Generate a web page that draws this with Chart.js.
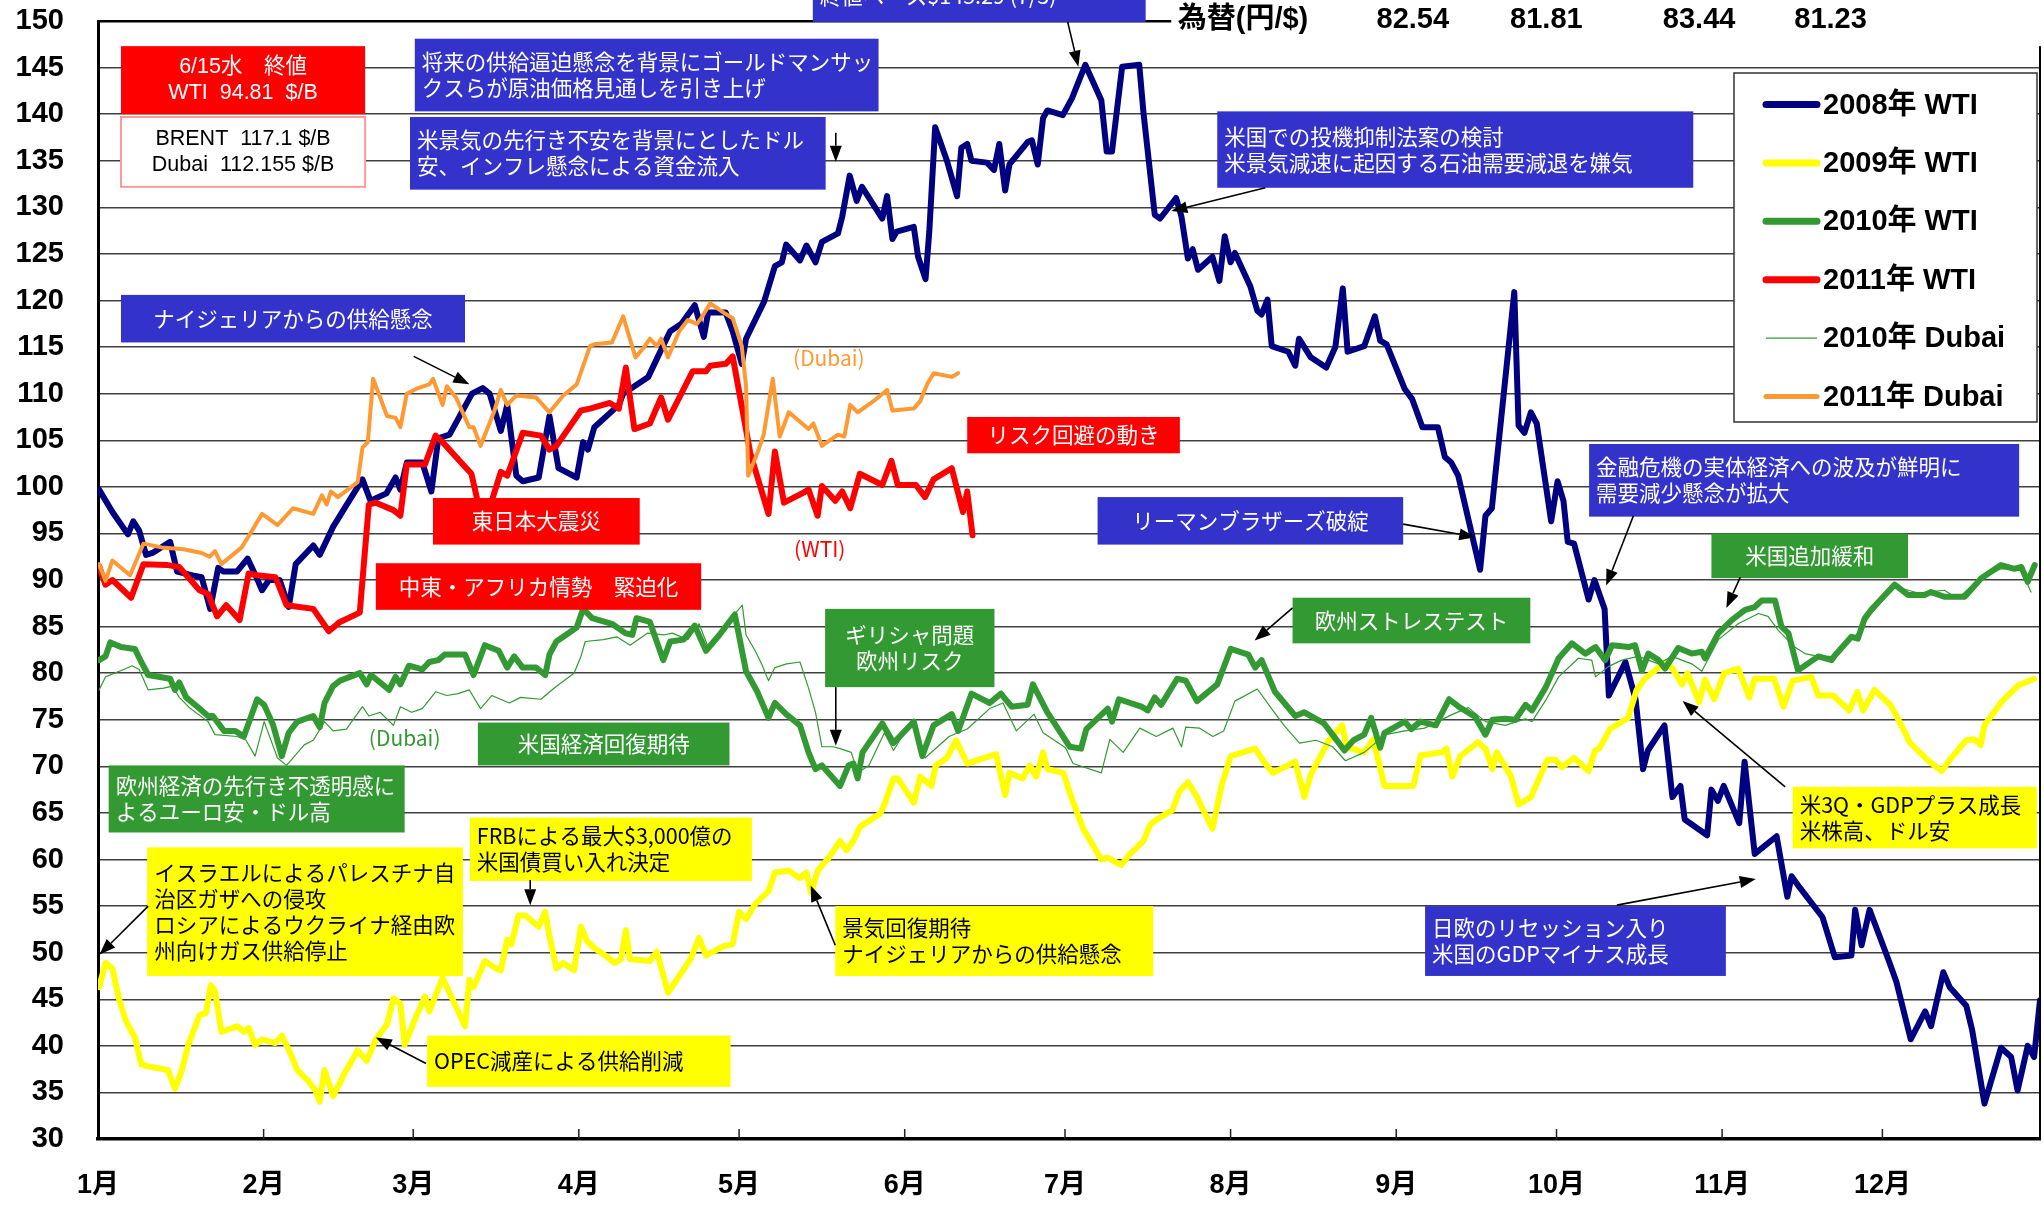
<!DOCTYPE html>
<html>
<head>
<meta charset="utf-8">
<script src="https://cdn.jsdelivr.net/npm/chart.js@4.4.1/dist/chart.umd.min.js"></script>
<style>
  html, body { margin: 0; padding: 0; background: #fff; }
  #wrap { width: 2044px; height: 1208px; }
</style>
</head>
<body>
<div id="wrap"><canvas id="chart" width="2044" height="1208"></canvas></div>
<script>
// x = day of year (Jan 1 = 0), y = $/B
const monthStarts = [0, 31, 59, 90, 120, 151, 181, 212, 243, 273, 304, 334];
const monthLabels = ['1月', '2月', '3月', '4月', '5月', '6月', '7月', '8月', '9月', '10月', '11月', '12月'];

const seriesNames = ['2008年 WTI', '2009年 WTI', '2010年 WTI', '2011年 WTI', '2010年 Dubai', '2011年 Dubai'];

const wti2008 = [[0.2,99.7],[2.7,97.3],[5.6,94.9],[6.6,96.3],[7.7,95.3],[9,92.7],[10.2,92.9],[13.5,94.1],[14.8,90.9],[17.7,90.5],[19.4,90.3],[21,86.9],[22.5,91.3],[23.5,90.9],[26,90.9],[28,92.3],[29.8,90.1],[30.7,88.9],[32,90.0],[34,90.0],[35.7,87.1],[37,91.7],[40.3,93.7],[41.5,92.7],[44,95.7],[47,98.5],[49.5,100.8],[51,98.5],[54,99.3],[55.7,101.0],[56.6,99.7],[57.8,102.6],[60.7,102.6],[62.4,99.5],[63.7,105.2],[65.8,105.6],[70,110],[72,110.6],[73.3,110],[75.4,106],[76.6,108.8],[78.3,101.2],[79.5,100.6],[82.5,101.0],[84.5,107.6],[86.2,102.0],[89.6,101.0],[90.8,104.8],[91.7,104.0],[92.9,106.4],[97.5,108.8],[98.3,110.0],[103,111.8],[105.4,114.7],[107.1,116.7],[109.2,117.5],[111.7,119.5],[113.4,116.1],[114.2,118.7],[117.5,118.7],[118.8,116.7],[120.5,113.2],[121.3,115.9],[124.7,119.9],[126.7,123.7],[128,124.1],[128.8,126.0],[131.4,124.3],[132.6,125.9],[134.3,124.1],[135.5,126.3],[138.5,127.2],[139.3,129.0],[140.7,133.4],[142,130.7],[143,132.2],[146.8,128.8],[147.7,131.2],[148.7,126.6],[149.5,127.4],[152.7,127.9],[153.5,124.7],[154.9,122.3],[155.6,127.4],[156.7,138.6],[158.9,135.0],[160.8,131.2],[161.6,136.4],[162.7,136.8],[163.5,135.0],[166.4,134.8],[167.7,134.0],[168.7,136.8],[169.8,131.8],[170.6,134.6],[174,137.0],[174.8,137.2],[175.9,134.6],[176.9,139.6],[177.7,140.4],[180.6,139.9],[182.3,141.7],[184.8,145.3],[187.8,141.5],[188.8,136.0],[189.8,136.0],[191.7,145.1],[194.9,145.3],[195.7,140.1],[197.8,129.2],[198.8,128.8],[201.8,131.0],[202.8,129.0],[204,124.5],[204.9,125.5],[205.9,123.3],[208.6,124.7],[209.9,122.1],[210.9,126.9],[212,124.1],[212.8,125.1],[215.7,121.5],[217,118.9],[217.8,118.5],[218.9,120.1],[219.7,115.1],[222.8,114.5],[224.1,113.0],[224.8,115.9],[227,113.9],[229.9,112.8],[231.6,115.0],[233,121.3],[233.9,114.5],[237,115.1],[239,118.3],[240,115.7],[241.2,115.3],[244.6,110.5],[246,109.4],[247.9,106.4],[250.8,106.4],[252.1,103.2],[253.3,102.6],[254.6,101.2],[258.7,91.1],[259.7,96.9],[260.9,97.7],[265.1,120.9],[265.9,106.6],[267,105.8],[268.2,108.0],[269.3,106.8],[272,96.3],[273.2,100.6],[274.3,98.5],[275.1,94.1],[276.3,93.9],[279,87.9],[280.1,90.0],[282,86.9],[282.8,77.6],[285.9,81.2],[287.8,77.2],[289.2,69.7],[290.1,71.7],[293.2,74.4],[294.7,66.7],[296.2,67.9],[297,64.3],[301.2,62.6],[302,67.5],[303.2,66.3],[304.3,67.9],[307.2,63.9],[308.2,70.5],[310.1,60.6],[314.2,62.5],[316.2,56.0],[317,58.2],[318.5,57.0],[322.8,53.8],[325.1,49.5],[328.2,49.7],[328.9,54.6],[330.1,50.8],[331.6,54.6],[335.1,49.3],[336.6,46.9],[339.3,40.7],[342,43.7],[343.1,42.1],[345.4,47.9],[346.6,46.3],[349.7,44.3],[350.8,41.7],[353.1,33.8],[356.2,39.8],[358.1,38.8],[359.3,35.2],[361.2,40.0],[362.4,38.8],[363.5,44.9]];

const wti2009 = [[0.2,46.3],[1.4,48.9],[2.7,48.3],[3.9,45.1],[5.2,42.7],[6.9,40.9],[8.1,38.0],[9.4,37.8],[13.1,37.4],[14.4,35.4],[15.6,37.2],[16.9,40.1],[19,43.3],[20.2,43.5],[21.1,46.5],[21.9,45.9],[23.1,41.5],[26.1,42.1],[27.3,41.5],[28.2,41.9],[29.4,40.1],[30.7,40.7],[33.2,40.3],[34.4,41.1],[35.7,39.6],[37.3,37.4],[39.4,36.2],[40.7,35.2],[41.5,34.0],[42.4,37.4],[44,34.6],[46.1,37.0],[48.6,39.5],[50.3,38.4],[52,40.7],[54.1,42.3],[55.3,45.1],[56.6,44.5],[57.4,40.1],[59.5,43.1],[61.2,45.3],[62,43.7],[64.5,47.3],[66.6,44.7],[68.7,42.1],[69.5,47.1],[70.3,46.3],[72.4,49.1],[74.5,48.3],[75.4,48.1],[76.6,51.4],[77.4,50.9],[78.7,54.0],[80,54.0],[81.6,53.2],[82.5,52.8],[83.7,54.4],[84.5,51.8],[85.8,48.3],[87.1,48.9],[89.1,48.1],[90.4,52.8],[91.6,51.2],[92.9,50.5],[95.4,49.5],[96.7,48.9],[97.9,49.3],[98.8,52.4],[99.6,49.3],[103.3,49.1],[104.6,50.1],[106.7,45.7],[108.8,47.5],[110.9,49.3],[112.5,51.6],[113.8,49.7],[117.1,50.7],[118.8,50.9],[120,54.4],[121.3,53.6],[123,55.2],[125.5,56.6],[126.7,58.6],[129.3,58.8],[131.4,58.0],[132.6,58.6],[133.5,56.4],[134.7,58.8],[136.8,60.2],[138.9,62.0],[140.1,61.0],[141.4,62.0],[142.6,63.5],[146.4,64.9],[147.2,65.9],[148.9,68.7],[149.7,68.7],[152.7,66.1],[153.9,68.9],[156,67.9],[156.8,70.1],[158.9,70.9],[160.6,72.8],[162.7,70.3],[166.9,71.1],[168.1,71.3],[169.8,66.9],[170.6,69.3],[173.1,68.7],[174.4,70.1],[175.6,68.9],[176.9,71.5],[177.7,69.7],[180.7,69.3],[182.3,66.5],[184.4,63.3],[187.8,60.0],[189,60.2],[191.5,59.4],[193.2,60.6],[195.7,62.0],[196.9,63.7],[198.2,64.3],[201.1,65.3],[202.4,67.3],[204,68.3],[205.7,66.7],[208.6,63.3],[210.3,67.9],[212,71.1],[216.6,71.9],[218.2,70.5],[219.9,69.3],[224.1,70.5],[225.8,66.7],[227,69.1],[230.4,72.8],[232.9,74.4],[233.7,72.1],[237,71.5],[238.7,72.9],[240.8,67.9],[246.2,67.9],[247.6,71.2],[251.5,71.5],[252.4,71.9],[253.5,68.9],[255,71.1],[258.3,72.6],[259.8,71.8],[261,69.7],[261.8,71.5],[264.5,68.9],[265.9,65.9],[268.2,66.7],[271.3,70.7],[272.8,70.7],[274,69.9],[276.3,70.9],[279,69.5],[280.2,71.7],[281,71.9],[283,74.0],[286.4,75.2],[288,78.2],[289.5,79.4],[293.2,81.1],[294.6,80.6],[296.5,78.8],[297.5,80.0],[299.7,76.9],[300.8,79.3],[302.5,77.2],[304.4,80.0],[307,80.5],[309.1,77.4],[310.1,79.4],[313.7,79.4],[315.5,76.4],[317.2,79.2],[320.7,79.6],[322,77.6],[324.8,77.6],[327.8,76.0],[329.3,78.0],[330.4,76.0],[332.5,78.2],[335.5,76.6],[337,75.0],[339.2,72.5],[342.8,70.5],[345.1,69.5],[346.6,70.7],[349.7,72.8],[351.2,72.9],[352.4,72.3],[353.1,74.4],[356.4,77.0],[359.5,78.7],[362.4,79.4]];

const wti2010 = [[0.2,81.4],[1.4,81.8],[2.3,83.3],[4.3,82.8],[6.9,82.6],[8.1,81.2],[9.4,79.8],[13.5,79.4],[14.4,78.2],[15.2,79.0],[16.5,77.4],[18.6,76.4],[20.6,75.4],[21.5,75.4],[23.6,73.8],[25.7,73.8],[27.3,73.2],[29.8,77.2],[31.1,76.6],[32.8,74.4],[34.4,71.1],[35.7,73.6],[37.3,74.8],[40.3,75.4],[41.5,74.2],[42.4,76.8],[44,78.6],[45.3,79.2],[49,80.0],[50.3,78.8],[51.1,79.8],[54.5,78.2],[55.7,79.6],[56.6,78.8],[58.2,80.8],[60.7,80.4],[62,81.2],[63.7,81.4],[64.9,82.0],[68.7,82.0],[70.3,79.8],[72.4,83.0],[75,82.4],[76.6,80.6],[77.9,81.8],[79.5,80.6],[82,80.6],[83.7,79.8],[84.5,82.0],[85.8,83.4],[89.6,84.9],[90.8,86.9],[92.5,85.9],[96.2,85.3],[98.7,84.3],[100,84.1],[100.8,85.9],[103.3,85.5],[105.8,81.4],[107.1,83.4],[109.6,83.6],[111.7,85.1],[113.8,82.4],[116.3,84.1],[119.2,86.3],[121.3,80.2],[123.4,78.0],[125.5,75.2],[126.7,76.8],[128.8,75.6],[131.4,74.4],[133,71.5],[134.3,69.7],[135.5,70.1],[138.9,67.9],[140.5,70.1],[141.4,70.3],[142.2,68.7],[143.1,71.5],[146.8,74.6],[148.9,72.5],[152.7,74.8],[154.3,71.1],[156.4,74.4],[159.8,75.6],[161,73.8],[163.5,77.8],[166.9,76.8],[169,77.8],[171,76.4],[174,76.6],[175,78.8],[177.7,75.8],[181.9,72.1],[184,71.9],[185,74.0],[189,76.2],[189.8,74.8],[191.1,77.2],[195.3,76.4],[196.5,76.0],[197.8,77.4],[199,76.6],[202,79.4],[203.6,79.2],[205.7,77.0],[209.5,78.8],[212,82.6],[215.3,82.0],[216.6,80.6],[217.8,81.4],[220.3,78.0],[224.1,75.4],[225.8,75.8],[229.5,74.6],[231.6,73.0],[233.3,71.7],[235,72.8],[237,73.4],[238.3,75.2],[240,72.0],[240.8,73.6],[244.6,74.8],[245.8,74.0],[247.5,74.8],[250.4,74.4],[252.9,77.2],[254.7,76.4],[257.8,75.3],[259.7,73.4],[261,75.0],[263.4,75.1],[265.3,75.0],[267.2,76.6],[268.4,76.0],[271,78.5],[273.4,81.6],[275.9,83.2],[278.4,82.1],[280.3,82.8],[282.1,81.4],[283.4,83.0],[286.5,82.8],[287.7,83.0],[289,80.3],[290.2,82.1],[292.1,81.4],[293.3,80.5],[295.8,82.7],[298.3,82.1],[300.2,82.3],[300.8,81.6],[303.3,84.3],[305.8,85.7],[308.3,86.8],[310.1,87.1],[311.4,87.8],[313.9,87.8],[315.1,85.0],[316.4,84.3],[318.2,80.3],[322,81.8],[324.5,81.4],[325.1,81.9],[328.2,83.9],[329.4,83.7],[330.7,85.9],[331.9,86.8],[336.3,89.5],[338.8,88.4],[341.9,88.4],[343.1,88.7],[345.6,88.2],[349.4,88.2],[352.5,90.2],[356.2,91.6],[358.7,91.2],[360,91.4],[361.2,89.8],[362.5,91.6]];

const wti2011 = [[0.2,91.5],[1.4,89.5],[2.7,90.0],[6.2,88.1],[8.5,91.7],[13.1,91.6],[15.2,91.4],[19,88.9],[20.6,88.5],[22.3,86.1],[24,87.3],[26.5,85.7],[28.2,90.7],[29.8,90.5],[33.2,90.3],[35.3,87.3],[40.3,86.9],[43.2,84.5],[45.3,85.5],[49,86.5],[50.7,98.1],[52,98.3],[55.3,97.5],[56.6,96.9],[57.8,102.4],[61.2,102.4],[63.2,105.5],[64.5,104.8],[68.3,102.4],[69.9,101.4],[71.2,98.1],[73,97.2],[75.4,101.6],[76.6,101.2],[79.5,105.8],[82.9,105.5],[84.5,104.0],[85.8,104.4],[90.4,108.2],[92.1,108.4],[95.8,109.0],[97.5,108.4],[98.8,112.8],[100.4,106.2],[103.3,106.8],[105.4,109.6],[106.7,107.2],[111.3,112.4],[113.8,112.4],[114.6,113.0],[117.5,113.2],[118.8,114.0],[122.1,103.6],[125.5,97.1],[126.7,103.8],[128.4,98.3],[131.8,99.3],[133,99.7],[134.7,96.9],[135.5,100.1],[138,98.5],[139.3,99.5],[140.8,97.7],[142.6,101.4],[146.8,100.2],[148.5,102.8],[149.7,100.2],[153.1,100.2],[154.8,98.9],[156.4,100.8],[159.8,102.0],[161.9,97.3],[162.7,99.5],[163.7,94.8]];

const dubai2010 = [[0.2,78.2],[1.4,79.6],[4.8,80.4],[6.4,80.8],[7.7,80.4],[9.4,78.2],[12.3,78.4],[14,78.6],[15.2,77.4],[17.3,76.2],[20.6,74.8],[21.9,73.4],[26.1,73.2],[27.7,72.8],[29.4,71.1],[31.1,74.8],[33.6,70.9],[35.3,70.1],[38.6,72.3],[40.3,72.8],[42.4,74.8],[44,73.8],[46.5,74.0],[49.5,76.4],[50.7,75.4],[52.8,75.8],[55.3,74.4],[56.6,76.4],[58.7,75.8],[60.7,76.2],[63.2,78.0],[65.3,77.6],[67.4,77.8],[69.5,78.2],[71.6,76.2],[73.7,77.6],[77,76.8],[79.1,77.4],[82.9,77.2],[85.4,78.4],[89.1,80.0],[90.4,81.8],[91.2,83.4],[94.6,83.6],[97.1,83.9],[99.6,83.0],[102.9,84.3],[105.9,84.1],[107.5,84.3],[110.4,83.6],[112.5,85.3],[114.2,82.8],[116.3,84.1],[118.8,86.1],[120.6,87.3],[121.3,84.1],[123,82.4],[124.2,81.0],[125.5,79.2],[126.7,80.6],[128.9,81.0],[131.4,81.2],[133,78.4],[134.3,75.8],[135.5,72.1],[137.6,72.1],[138.9,71.9],[141,71.5],[142.2,69.3],[144.3,70.1],[147.2,73.6],[148.9,71.7],[152.2,74.8],[154.8,70.9],[159.3,73.2],[162.7,74.0],[166.9,76.2],[169.4,76.8],[171.9,73.8],[175.2,75.6],[176.9,73.6],[181.1,72.0],[182.5,70.3],[187.8,69.3],[189.4,72.9],[191.9,71.5],[195,74.1],[198.1,73.2],[201.2,74.1],[202.8,72.1],[203.6,74.2],[206.2,74.1],[208.7,73.2],[210.7,73.8],[212.8,77.0],[217,78.3],[219.9,76.0],[222,74.4],[224.9,72.5],[228,72.8],[231.1,72.1],[233.5,70.6],[237,71.5],[241,73.4],[244.6,73.8],[248.3,74.1],[253.6,75.6],[256.5,76.3],[259.7,74.8],[263.4,74.4],[267.2,75.1],[268.4,74.8],[271,77.1],[273.4,79.6],[277.1,81.6],[279.6,81.4],[280.3,79.6],[282.7,80.7],[285.2,81.4],[288.3,81.8],[292.1,81.0],[294.6,81.8],[298.3,81.0],[300.2,80.2],[303.3,83.6],[307,85.3],[310.8,86.4],[312.6,86.1],[314.5,84.6],[317.6,82.8],[319.5,82.1],[322,81.8],[324.5,81.8],[329.4,84.3],[331.9,86.4],[336.3,89.3],[340.7,88.6],[345.6,88.9],[348.1,88.0],[351.9,90.0],[356.2,91.2],[360,91.1],[361.8,88.7]];

const dubai2011 = [[0.2,91.7],[1.4,89.9],[2.7,92.1],[6,90.5],[8.5,93.9],[11.9,93.5],[16,93.3],[19.4,92.9],[20.9,92.5],[21.9,93.1],[23.1,91.7],[26.9,93.5],[28.2,94.7],[30.7,97.1],[33.6,95.9],[36.5,97.7],[40.3,97.1],[41.9,99.1],[42.8,98.1],[43.6,99.5],[44.9,98.9],[48.6,100.5],[49.5,104.2],[50.5,104.8],[51.5,111.6],[54.1,107.6],[55.7,107.4],[56.6,106.4],[57.8,110.0],[59.9,110.6],[62,111.0],[62.7,111.6],[64.5,108.8],[65.3,110.8],[67,109.6],[69.5,106.4],[70.3,106.4],[71.6,104.4],[74.1,108.0],[75.4,110.4],[76.6,108.8],[78.3,109.8],[82,109.6],[84.5,108.0],[87.1,109.8],[89.6,111.0],[92.1,115.1],[92.9,115.3],[96.2,115.5],[98.3,118.3],[100.6,113.9],[102.1,114.9],[103.3,115.9],[104.6,115.1],[105.4,115.9],[106.7,113.9],[108.8,116.7],[110.4,117.9],[112.1,117.5],[112.9,118.1],[114.6,119.7],[117.1,118.7],[118.8,118.1],[120.5,115.1],[121.3,110.8],[121.7,101.2],[123.4,103.6],[124.6,105.6],[126.3,111.6],[127.6,105.4],[129.3,108.0],[133,106.2],[133.9,106.8],[135.5,104.4],[138.5,105.6],[139.7,105.4],[140.8,108.8],[142.2,108.0],[145.6,109.4],[147.7,110.4],[148.7,108.2],[152.7,108.4],[153.9,109.2],[155.2,111.0],[156.4,112.2],[159.8,111.8],[161,112.2]];

const fxLabel = '為替(円/$)';
const fxRates = ['82.54', '81.81', '83.44', '81.23'];
const fxDays = [246.1, 271.1, 299.7, 324.3];

const BLUE = '#3333CC', RED = '#FF0000', GREEN = '#339933', YELLOW = '#FFFF00';
const JP = '"Noto Sans CJK JP", "Liberation Sans", sans-serif';
const LAT = '"Liberation Sans", "Noto Sans CJK JP", sans-serif';

// callout boxes: box = [x1, yTop, x2, yBottom] in chart units, arrow = [fromX, fromY, toX, toY]
const notes = [
  { box: [4.3, 147.3, 50.0, 140.0], fill: RED, color: '#fff', align: 'center', family: LAT, lines: ['6/15水　終値', 'WTI  94.81  $/B'] },
  { box: [4.3, 139.7, 50.0, 132.2], fill: '#fff', stroke: '#FF9999', color: '#000', align: 'center', family: LAT, lines: ['BRENT  117.1 $/B', 'Dubai  112.155 $/B'] },
  { box: [59.3, 148.1, 146.1, 140.3], fill: BLUE, lines: ['将来の供給逼迫懸念を背景にゴールドマンサッ', 'クスらが原油価格見通しを引き上げ'] },
  { box: [58.4, 139.7, 136.2, 131.9], fill: BLUE, lines: ['米景気の先行き不安を背景にとしたドル', '安、インフレ懸念による資金流入'], arrow: [138.1, 138.0, 138.1, 134.9] },
  { box: [133.8, 156, 196.1, 149.9], fill: BLUE, lines: ['終値ベース$145.29 (7/3)'], textAt: 152.7, arrow: [181.5, 149.9, 183.5, 145.1] },
  { box: [209.5, 140.3, 298.6, 132.1], fill: BLUE, lines: ['米国での投機抑制法案の検討', '米景気減速に起因する石油需要減退を嫌気'], arrow: [218.5, 132.1, 200.9, 129.6] },
  { box: [4.3, 120.6, 68.7, 115.5], fill: BLUE, align: 'center', lines: ['ナイジェリアからの供給懸念'], arrow: [59.1, 114.0, 69.5, 111.0] },
  { box: [62.7, 98.8, 101.4, 93.8], fill: RED, align: 'center', lines: ['東日本大震災'] },
  { box: [52, 91.8, 112.9, 86.8], fill: RED, align: 'center', lines: ['中東・アフリカ情勢　緊迫化'] },
  { box: [162.7, 107.5, 202.5, 103.6], fill: RED, align: 'center', lines: ['リスク回避の動き'] },
  { box: [187.1, 98.9, 244.3, 93.8], fill: BLUE, align: 'center', lines: ['リーマンブラザーズ破綻'], arrow: [244.3, 96.0, 257.8, 94.6] },
  { box: [279.1, 104.6, 359.6, 96.8], fill: BLUE, lines: ['金融危機の実体経済への波及が鮮明に', '需要減少懸念が拡大'], arrow: [287.4, 96.9, 282.3, 89.4] },
  { box: [302, 95.0, 338.8, 90.2], fill: GREEN, align: 'center', lines: ['米国追加緩和'], arrow: [307.4, 90.3, 304.8, 87.0] },
  { box: [223.6, 88.1, 268.1, 83.2], fill: GREEN, align: 'center', lines: ['欧州ストレステスト'], arrow: [223.6, 87.0, 216.5, 83.5] },
  { box: [136.1, 86.9, 167.8, 78.5], fill: GREEN, align: 'center', lines: ['ギリシャ問題', '欧州リスク'], arrow: [138.1, 78.5, 138.1, 72.2] },
  { box: [71.1, 74.7, 118.2, 70.1], fill: GREEN, align: 'center', lines: ['米国経済回復期待'] },
  { box: [2.0, 70.1, 57.4, 62.9], fill: GREEN, lines: ['欧州経済の先行き不透明感に', 'よるユーロ安・ドル高'] },
  { box: [69.6, 64.5, 122.4, 57.7], fill: YELLOW, color: '#000', lines: ['FRBによる最大$3,000億の', '米国債買い入れ決定'], arrow: [80.9, 57.8, 80.9, 55.1] },
  { box: [9.2, 61.3, 68.3, 47.5], fill: YELLOW, color: '#000', lines: ['イスラエルによるパレスチナ自', '治区ガザへの侵攻', 'ロシアによるウクライナ経由欧', '州向けガス供給停止'], arrow: [9.4, 55.0, 0.3, 49.8] },
  { box: [61.6, 41.1, 118.4, 35.6], fill: YELLOW, color: '#000', lines: ['OPEC減産による供給削減'], arrow: [61.4, 38.1, 52.0, 40.9] },
  { box: [138.0, 55.0, 197.5, 47.5], fill: YELLOW, color: '#000', lines: ['景気回復期待', 'ナイジェリアからの供給懸念'], arrow: [138, 50.8, 133.4, 57.2] },
  { box: [248.4, 55.0, 304.7, 47.5], fill: BLUE, lines: ['日欧のリセッション入り', '米国のGDPマイナス成長'], arrow: [284.3, 55.1, 310.3, 57.9] },
  { box: [317.2, 67.8, 362.9, 61.2], fill: YELLOW, color: '#000', lines: ['米3Q・GDPプラス成長', '米株高、ドル安'], arrow: [315.8, 67.8, 296.6, 77.0] }
];

const tags = [
  { x: 136.8, y: 113.8, text: '(Dubai)', color: '#FF9933' },
  { x: 135.1, y: 93.3, text: '(WTI)', color: RED },
  { x: 57.4, y: 73.0, text: '(Dubai)', color: GREEN }
];

const toXY = arr => arr.map(p => ({ x: p[0], y: p[1] }));

function series(i, data, color, width, order) {
  return {
    label: seriesNames[i], data: toXY(data),
    borderColor: color, backgroundColor: color, borderWidth: width,
    pointRadius: 0, tension: 0, fill: false, order: order,
    borderJoinStyle: 'round', borderCapStyle: 'round'
  };
}

const legendWidths = [7, 7, 7, 7, 1.3, 5];

function arrow(ctx, x1, y1, x2, y2) {
  const a = Math.atan2(y2 - y1, x2 - x1), L = 16, W = 6;
  ctx.strokeStyle = '#000'; ctx.fillStyle = '#000'; ctx.lineWidth = 1.6;
  ctx.beginPath(); ctx.moveTo(x1, y1);
  ctx.lineTo(x2 - L * Math.cos(a), y2 - L * Math.sin(a)); ctx.stroke();
  ctx.beginPath();
  ctx.moveTo(x2, y2);
  ctx.lineTo(x2 - L * Math.cos(a) + W * Math.sin(a), y2 - L * Math.sin(a) - W * Math.cos(a));
  ctx.lineTo(x2 - L * Math.cos(a) - W * Math.sin(a), y2 - L * Math.sin(a) + W * Math.cos(a));
  ctx.closePath(); ctx.fill();
}

const decor = {
  id: 'decor',
  afterDraw(chart) {
    const { ctx, chartArea: a, scales: { x, y } } = chart;
    const X = v => x.getPixelForValue(v), Y = v => y.getPixelForValue(v);
    ctx.save();

    // right frame line and inward month ticks
    ctx.strokeStyle = '#000'; ctx.lineWidth = 2;
    ctx.beginPath(); ctx.moveTo(a.right, a.top); ctx.lineTo(a.right, a.bottom); ctx.stroke();
    ctx.lineWidth = 1.5; ctx.strokeStyle = '#222';
    monthStarts.slice(1).forEach(m => {
      ctx.beginPath(); ctx.moveTo(X(m), a.bottom); ctx.lineTo(X(m), a.bottom - 10); ctx.stroke();
    });

    // callouts
    notes.forEach(n => {
      const x1 = X(n.box[0]), y1 = Y(n.box[1]), x2 = X(n.box[2]), y2 = Y(n.box[3]);
      ctx.fillStyle = n.fill; ctx.fillRect(x1, y1, x2 - x1, y2 - y1);
      if (n.stroke) { ctx.strokeStyle = n.stroke; ctx.lineWidth = 2; ctx.strokeRect(x1, y1, x2 - x1, y2 - y1); }
      ctx.font = '21.5px ' + (n.family || JP);
      ctx.fillStyle = n.color || '#fff';
      ctx.textBaseline = 'middle';
      ctx.textAlign = n.align === 'center' ? 'center' : 'left';
      const tx = n.align === 'center' ? (x1 + x2) / 2 : x1 + 7;
      const lh = 26;
      const cy = n.textAt !== undefined ? Y(n.textAt) : (y1 + y2) / 2;
      n.lines.forEach((t, i) => ctx.fillText(t, tx, cy + (i - (n.lines.length - 1) / 2) * lh));
      if (n.arrow) arrow(ctx, X(n.arrow[0]), Y(n.arrow[1]), X(n.arrow[2]), Y(n.arrow[3]));
    });

    tags.forEach(t => {
      ctx.font = '21px ' + JP; ctx.fillStyle = t.color;
      ctx.textAlign = 'center'; ctx.textBaseline = 'middle';
      ctx.fillText(t.text, X(t.x), Y(t.y));
    });

    // exchange-rate row on top
    ctx.fillStyle = '#fff';
    ctx.fillRect(X(200.9), 0, chart.width - X(200.9), Y(147.3));
    ctx.fillStyle = '#000'; ctx.textBaseline = 'middle';
    ctx.font = 'bold 29px ' + LAT;
    ctx.textAlign = 'left';
    ctx.fillText(fxLabel, X(202.1), Y(150.1));
    ctx.textAlign = 'center';
    fxRates.forEach((r, i) => ctx.fillText(r, X(fxDays[i]), Y(150.1)));

    // legend
    const lx = 1734, ly = 73, lw = 303, lhgt = 349;
    ctx.fillStyle = '#fff'; ctx.fillRect(lx, ly, lw, lhgt);
    ctx.strokeStyle = '#333'; ctx.lineWidth = 1.5; ctx.strokeRect(lx, ly, lw, lhgt);
    ctx.font = 'bold 29px ' + LAT; ctx.textAlign = 'left'; ctx.textBaseline = 'middle';
    chart.data.datasets.forEach((ds, i) => {
      const ry = 104.5 + i * 58.4;
      ctx.strokeStyle = ds.borderColor; ctx.lineWidth = legendWidths[i];
      ctx.lineCap = legendWidths[i] > 2 ? 'round' : 'butt';
      ctx.beginPath(); ctx.moveTo(1766, ry); ctx.lineTo(1817, ry); ctx.stroke();
      ctx.fillStyle = '#000';
      ctx.fillText(ds.label, 1823, ry + 1);
    });
    ctx.restore();
  }
};

new Chart(document.getElementById('chart'), {
  type: 'line',
  data: {
    datasets: [
      series(0, wti2008, '#000080', 6, 6),
      series(1, wti2009, '#FFFF00', 6, 5),
      series(2, wti2010, '#339933', 6, 4),
      series(3, wti2011, '#FF0000', 6, 3),
      series(4, dubai2010, '#339933', 1.2, 2),
      series(5, dubai2011, '#FF9933', 4, 1)
    ]
  },
  options: {
    responsive: false,
    animation: false,
    devicePixelRatio: 1,
    layout: { padding: { top: 21, right: 4, left: 0, bottom: 0 } },
    plugins: { legend: { display: false }, tooltip: { enabled: false } },
    scales: {
      x: {
        type: 'linear', min: 0, max: 363.5,
        afterBuildTicks: s => { s.ticks = monthStarts.map(v => ({ value: v })); },
        afterFit: s => { s.height = 69; s.paddingLeft = 0; s.paddingRight = 0; },
        grid: { display: false, drawTicks: false },
        border: { display: true, color: '#000', width: 3.5 },
        ticks: {
          autoSkip: false, maxRotation: 0, padding: 30, color: '#000',
          font: { family: LAT, size: 27, weight: 'bold' },
          callback: v => monthLabels[monthStarts.indexOf(v)]
        }
      },
      y: {
        min: 30, max: 150,
        afterFit: s => { s.width = 98; s.paddingTop = 0; s.paddingBottom = 0; },
        grid: {
          drawTicks: false,
          color: c => (c.tick && c.tick.value === 150) ? '#000' : '#404040',
          lineWidth: c => (c.tick && c.tick.value === 150) ? 2.5 : 1.5
        },
        border: { display: true, color: '#000', width: 3 },
        ticks: { stepSize: 5, padding: 34, color: '#000', font: { family: LAT, size: 29, weight: 'bold' } }
      }
    }
  },
  plugins: [decor]
});
</script>
</body>
</html>
